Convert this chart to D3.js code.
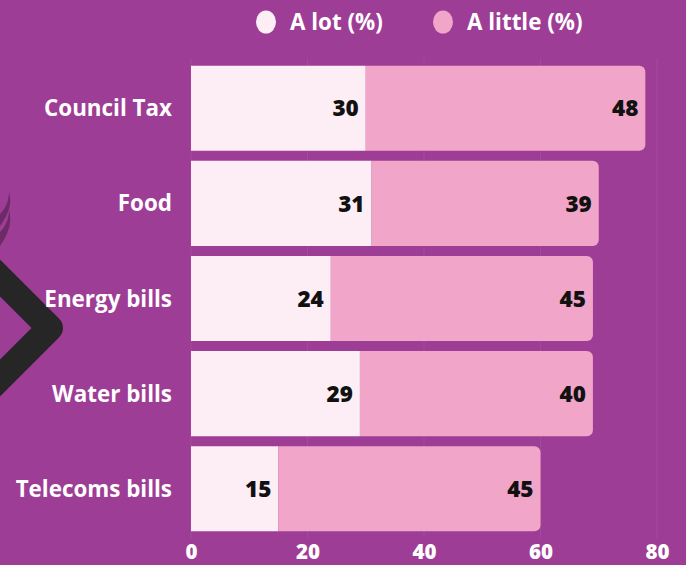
<!DOCTYPE html>
<html>
<head>
<meta charset="utf-8">
<script src="https://cdn.jsdelivr.net/npm/d3@7"></script>
<style>
  html, body { margin: 0; padding: 0; background: #9e3d95; }
  svg { display: block; }
</style>
</head>
<body>
<svg id="chart" width="686" height="565"></svg>
<script>
// Share of people worried about each cost, "a lot" and "a little"
const categories = ["Council Tax", "Food", "Energy bills", "Water bills", "Telecoms bills"];
const aLot = [30, 31, 24, 29, 15];
const aLittle = [48, 39, 45, 40, 45];
const seriesNames = ["A lot (%)", "A little (%)"];
const xTicks = [0, 20, 40, 60, 80];

const W = 686, H = 565;
const colors = { bg: "#9e3d95", lot: "#fdeef6", little: "#f1a5c9" };
const font = "'Open Sans', Lato, sans-serif";

const svg = d3.select("#chart");
svg.append("rect").attr("width", W).attr("height", H).attr("fill", colors.bg);

// Decorative background motif on the left edge
const deco = svg.append("g");
deco.append("path")
  .attr("d", "M-40,238 L50,328 L-40,418")
  .attr("fill", "none").attr("stroke", "#262626").attr("stroke-width", 26)
  .attr("stroke-linejoin", "round");
deco.append("path")
  .attr("d", "M0,214 C6,208 9,200 9,192 C12,202 10,212 0,226 Z")
  .attr("fill", "#6e2a66");
deco.append("path")
  .attr("d", "M0,232 C6,226 9,218 9,210 C12,220 10,232 0,246 Z")
  .attr("fill", "#6e2a66");

const margin = { left: 191, right: 29 };
const x = d3.scaleLinear().domain([0, 80]).range([margin.left, W - margin.right]);
const y = d3.scaleBand().domain(categories).range([61, 536]).paddingInner(0.105).paddingOuter(0.05);

// Faint vertical grid
svg.append("g").selectAll("line").data(xTicks).join("line")
  .attr("x1", d => x(d)).attr("x2", d => x(d))
  .attr("y1", 58).attr("y2", 538)
  .attr("stroke", "#ffffff").attr("stroke-opacity", 0.07).attr("stroke-width", 1);

const rows = categories.map((c, i) => ({ c, lot: aLot[i], little: aLittle[i] }));

// Segment path with optional rounded right end
function seg(x0, x1, y0, h, r) {
  const p = d3.path();
  p.moveTo(x0, y0);
  p.lineTo(x1 - r, y0);
  if (r) p.arcTo(x1, y0, x1, y0 + r, r);
  p.lineTo(x1, y0 + h - r);
  if (r) p.arcTo(x1, y0 + h, x1 - r, y0 + h, r);
  p.lineTo(x0, y0 + h);
  p.closePath();
  return p.toString();
}

const g = svg.append("g");
const row = g.selectAll("g.row").data(rows).join("g").attr("class", "row");

row.append("path")
  .attr("d", d => seg(x(0), x(d.lot), y(d.c), y.bandwidth(), 0))
  .attr("fill", colors.lot);
row.append("path")
  .attr("d", d => seg(x(d.lot), x(d.lot + d.little), y(d.c), y.bandwidth(), 6))
  .attr("fill", colors.little);

// Value labels, right-aligned inside each segment
row.append("text")
  .attr("x", d => x(d.lot) - 7)
  .attr("y", d => y(d.c) + y.bandwidth() / 2)
  .attr("dy", "0.36em").attr("text-anchor", "end")
  .attr("font-family", font).attr("font-weight", 800).attr("font-size", 22.5)
  .attr("fill", "#111").text(d => d.lot);
row.append("text")
  .attr("x", d => x(d.lot + d.little) - 7)
  .attr("y", d => y(d.c) + y.bandwidth() / 2)
  .attr("dy", "0.36em").attr("text-anchor", "end")
  .attr("font-family", font).attr("font-weight", 800).attr("font-size", 22.5)
  .attr("fill", "#111").text(d => d.little);

// Category labels
row.append("text")
  .attr("x", 172)
  .attr("y", d => y(d.c) + y.bandwidth() / 2)
  .attr("dy", "0.36em").attr("text-anchor", "end")
  .attr("font-family", font).attr("font-weight", 700).attr("font-size", 22.4)
  .attr("fill", "#ffffff").text(d => d.c);

// Bottom axis
const axis = svg.append("g").attr("transform", `translate(0,559)`)
  .call(d3.axisBottom(x).tickValues(xTicks).tickSize(0).tickPadding(0));
axis.select(".domain").remove();
axis.selectAll("text")
  .attr("font-family", font).attr("font-weight", 800).attr("font-size", 20.5)
  .attr("fill", "#ffffff").attr("dy", "0").attr("y", 0);

// Legend
const legend = svg.append("g");
const legendItems = [
  { name: seriesNames[0], color: colors.lot, cx: 266 },
  { name: seriesNames[1], color: colors.little, cx: 443 }
];
const li = legend.selectAll("g").data(legendItems).join("g");
li.append("ellipse").attr("cx", d => d.cx).attr("cy", 22).attr("rx", 10).attr("ry", 11.5)
  .attr("fill", d => d.color);
li.append("text").attr("x", d => d.cx + 24).attr("y", 22).attr("dy", "0.36em")
  .attr("font-family", font).attr("font-weight", 700).attr("font-size", 22.4)
  .attr("fill", "#ffffff").text(d => d.name);
</script>
</body>
</html>
